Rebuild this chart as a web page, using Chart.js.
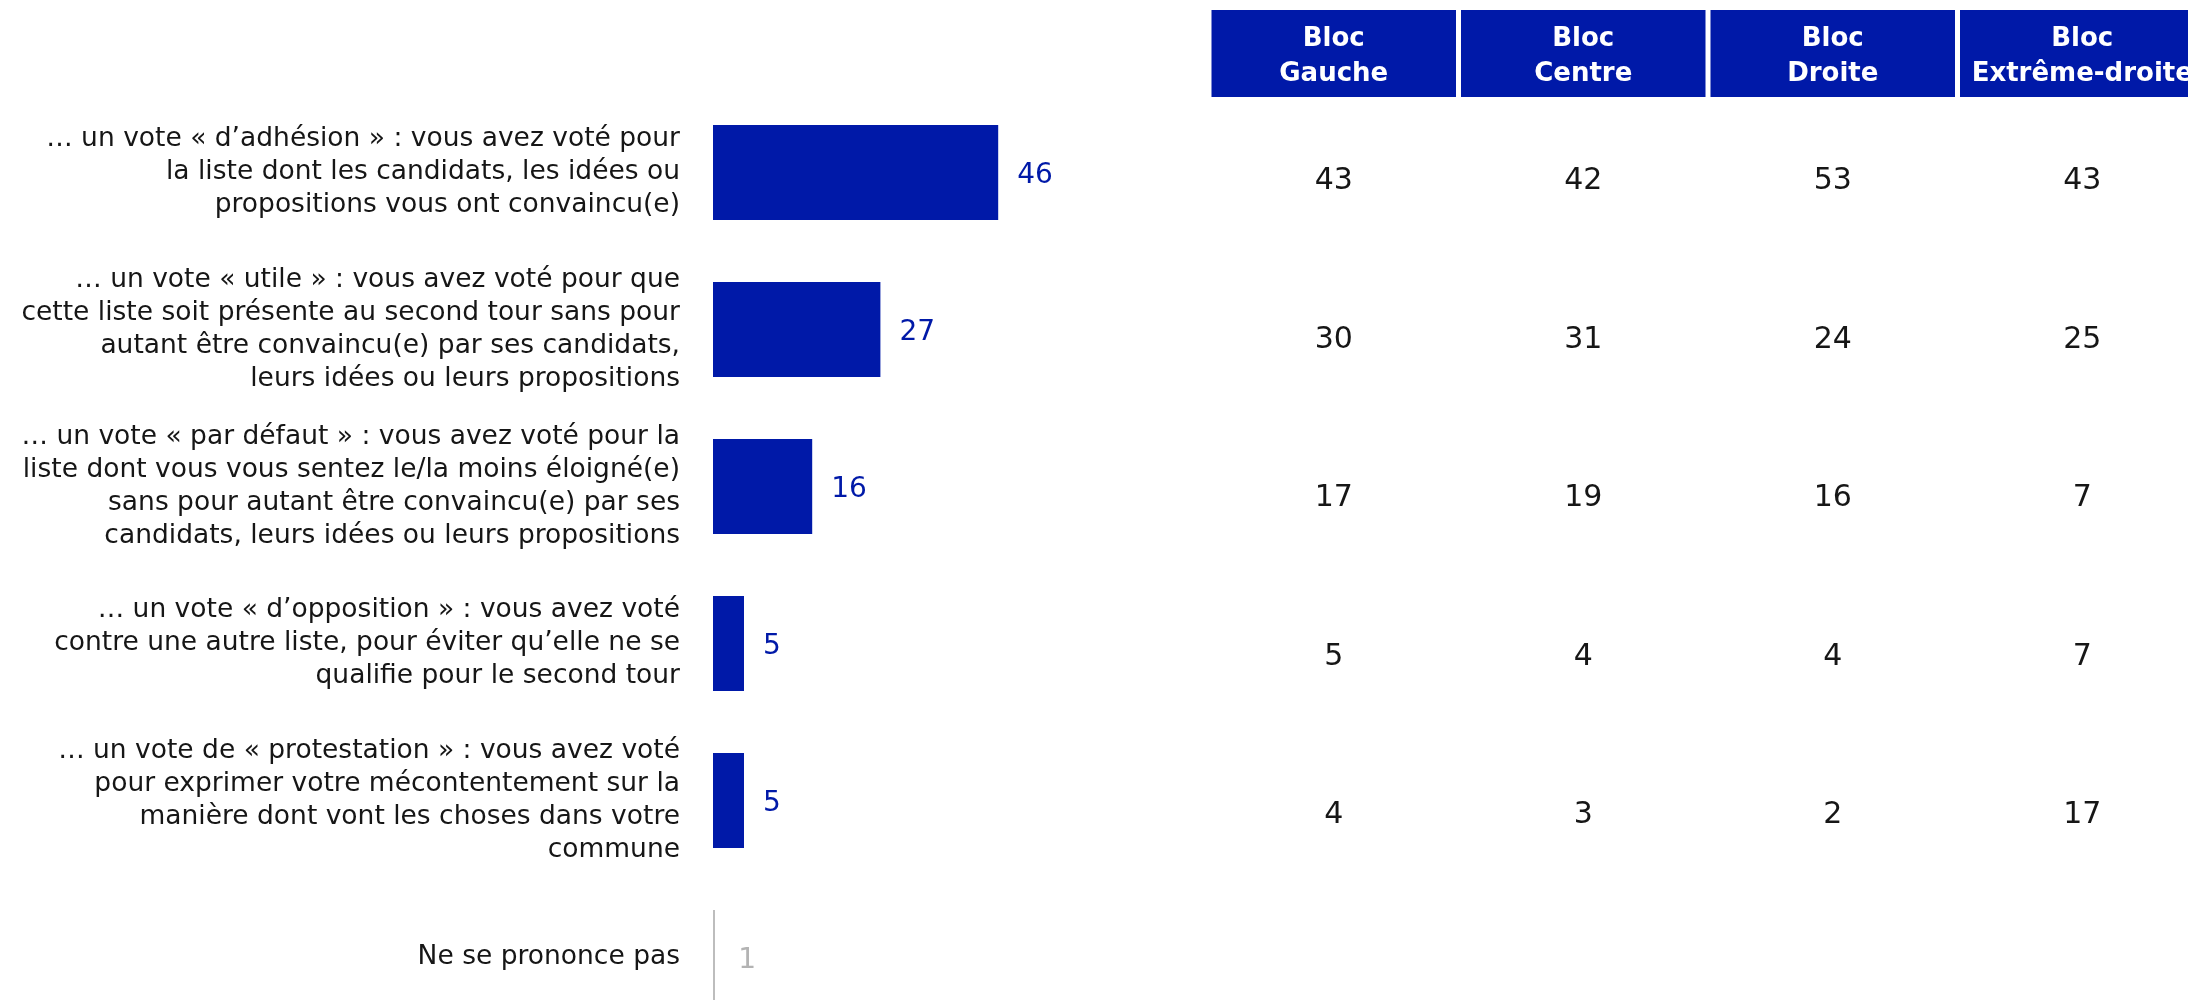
<!DOCTYPE html>
<html lang="fr">
<head>
<meta charset="utf-8">
<title>Type de vote</title>
<script src="https://cdn.jsdelivr.net/npm/chart.js@4/dist/chart.umd.min.js"></script>
<style>
  html, body { margin: 0; padding: 0; background: #fff; overflow: hidden; }
  #wrap { position: relative; width: 2188px; height: 1000px; }
  canvas { position: absolute; top: 0; }
  #barChart { left: 0; }
  #tableChart { left: 1209px; }
</style>
</head>
<body>
<div id="wrap">
  <canvas id="barChart" width="1333" height="1040"></canvas>
  <canvas id="tableChart" width="998" height="1055"></canvas>
</div>
<script>
// ---- données ----
const categories = [
  ['… un vote « d’adhésion » : vous avez voté pour', 'la liste dont les candidats, les idées ou', 'propositions vous ont convaincu(e)'],
  ['… un vote « utile » : vous avez voté pour que', 'cette liste soit présente au second tour sans pour', 'autant être convaincu(e) par ses candidats,', 'leurs idées ou leurs propositions'],
  ['… un vote « par défaut » : vous avez voté pour la', 'liste dont vous vous sentez le/la moins éloigné(e)', 'sans pour autant être convaincu(e) par ses', 'candidats, leurs idées ou leurs propositions'],
  ['… un vote « d’opposition » : vous avez voté', 'contre une autre liste, pour éviter qu’elle ne se', 'qualifie pour le second tour'],
  ['… un vote de « protestation » : vous avez voté', 'pour exprimer votre mécontentement sur la', 'manière dont vont les choses dans votre', 'commune'],
  'Ne se prononce pas'
];
const rowIds = ['adhesion', 'utile', 'defaut', 'opposition', 'protestation', 'nsp'];
const ensemble = [46, 27, 16, 5, 5, 1];

const blocs = ['Bloc Gauche', 'Bloc Centre', 'Bloc Droite', 'Bloc Extrême-droite'];
const blocHeaders = [['Bloc', 'Gauche'], ['Bloc', 'Centre'], ['Bloc', 'Droite'], ['Bloc', 'Extrême-droite']];
const blocGauche = [43, 30, 17, 5, 4];
const blocCentre = [42, 31, 19, 4, 3];
const blocDroite = [53, 24, 16, 4, 2];
const blocExtremeDroite = [43, 25, 7, 7, 17];
const blocValues = [blocGauche, blocCentre, blocDroite, blocExtremeDroite];

const BLUE = '#0019A8';
const GREY = '#bdbdbd';
const FONT = '"DejaVu Sans", sans-serif';
const NSP = categories.length - 1;

Chart.defaults.font.family = FONT;

/* ================= BARRES ================= */
const barLabels = {
  id: 'barLabels',
  afterDatasetsDraw(chart) {
    const { ctx } = chart;
    const meta = chart.getDatasetMeta(0);
    ctx.save();
    ctx.font = '28px ' + FONT;
    ctx.textAlign = 'left';
    ctx.textBaseline = 'middle';
    meta.data.forEach((bar, i) => {
      ctx.fillStyle = i === NSP ? '#b3b3b3' : BLUE;
      ctx.fillText(ensemble[i], bar.x + 19, bar.y + 3);
    });
    ctx.restore();
  }
};

new Chart(document.getElementById('barChart'), {
  type: 'bar',
  data: {
    labels: categories,
    datasets: [{
      data: ensemble,
      backgroundColor: ctx => ctx.dataIndex === NSP ? 'rgba(0,0,0,0)' : BLUE,
      borderColor: ctx => ctx.dataIndex === NSP ? GREY : BLUE,
      borderWidth: ctx => ctx.dataIndex === NSP ? { left: 2, right: 0, top: 0, bottom: 0 } : 0,
      borderSkipped: false,
      barPercentage: 0.604,
      categoryPercentage: 1
    }]
  },
  options: {
    indexAxis: 'y',
    responsive: false,
    animation: false,
    layout: { padding: { top: 94, bottom: 4, left: 0, right: 0 } },
    plugins: { legend: { display: false }, tooltip: { enabled: false } },
    scales: {
      x: { display: false, min: 0, max: 100 },
      y: {
        grid: { display: false, drawTicks: false },
        border: { display: false },
        ticks: {
          color: '#161616',
          autoSkip: false,
          padding: 33,
          crossAlign: 'near',
          font: { size: 26.5, lineHeight: 1.245 }
        },
        afterFit: s => {
          // pas de marge auto pour les libellés multi-lignes
          s.width = 713;
          s.paddingTop = 0;
          s.paddingBottom = 0;
        }
      }
    }
  },
  plugins: [barLabels]
});

/* ================= TABLEAU ================= */
const tableDraw = {
  id: 'tableDraw',
  beforeDatasetsDraw(chart) {
    const { ctx } = chart;
    const xs = chart.scales.x;
    const half = (xs.getPixelForValue(1) - xs.getPixelForValue(0)) / 2 - 2.5;
    ctx.save();
    blocHeaders.forEach((lines, j) => {
      const cx = xs.getPixelForValue(j);
      ctx.fillStyle = BLUE;
      ctx.fillRect(cx - half, 10, half * 2, 87);
      ctx.fillStyle = '#fff';
      ctx.font = 'bold 26px ' + FONT;
      ctx.textAlign = 'center';
      ctx.textBaseline = 'middle';
      lines.forEach((t, k) => ctx.fillText(t, cx, 39 + k * 35));
    });
    ctx.restore();
  },
  afterDatasetsDraw(chart) {
    const { ctx } = chart;
    ctx.save();
    ctx.font = '30px ' + FONT;
    ctx.fillStyle = '#161616';
    ctx.textAlign = 'center';
    ctx.textBaseline = 'middle';
    chart.data.datasets.forEach((ds, j) => {
      chart.getDatasetMeta(j).data.forEach((pt, i) => {
        ctx.fillText(blocValues[j][i], pt.x, pt.y);
      });
    });
    ctx.restore();
  }
};

new Chart(document.getElementById('tableChart'), {
  type: 'scatter',
  data: {
    datasets: blocs.map((b, j) => ({
      label: b,
      data: blocValues[j].map((v, i) => ({ x: b, y: rowIds[i] })),
      pointRadius: 0
    }))
  },
  options: {
    responsive: false,
    animation: false,
    layout: { padding: { top: 102, bottom: 2, left: 0, right: 0 } },
    plugins: { legend: { display: false }, tooltip: { enabled: false } },
    scales: {
      x: { type: 'category', labels: blocs, offset: true, display: false },
      y: { type: 'category', labels: rowIds, offset: true, display: false }
    }
  },
  plugins: [tableDraw]
});
</script>
</body>
</html>
